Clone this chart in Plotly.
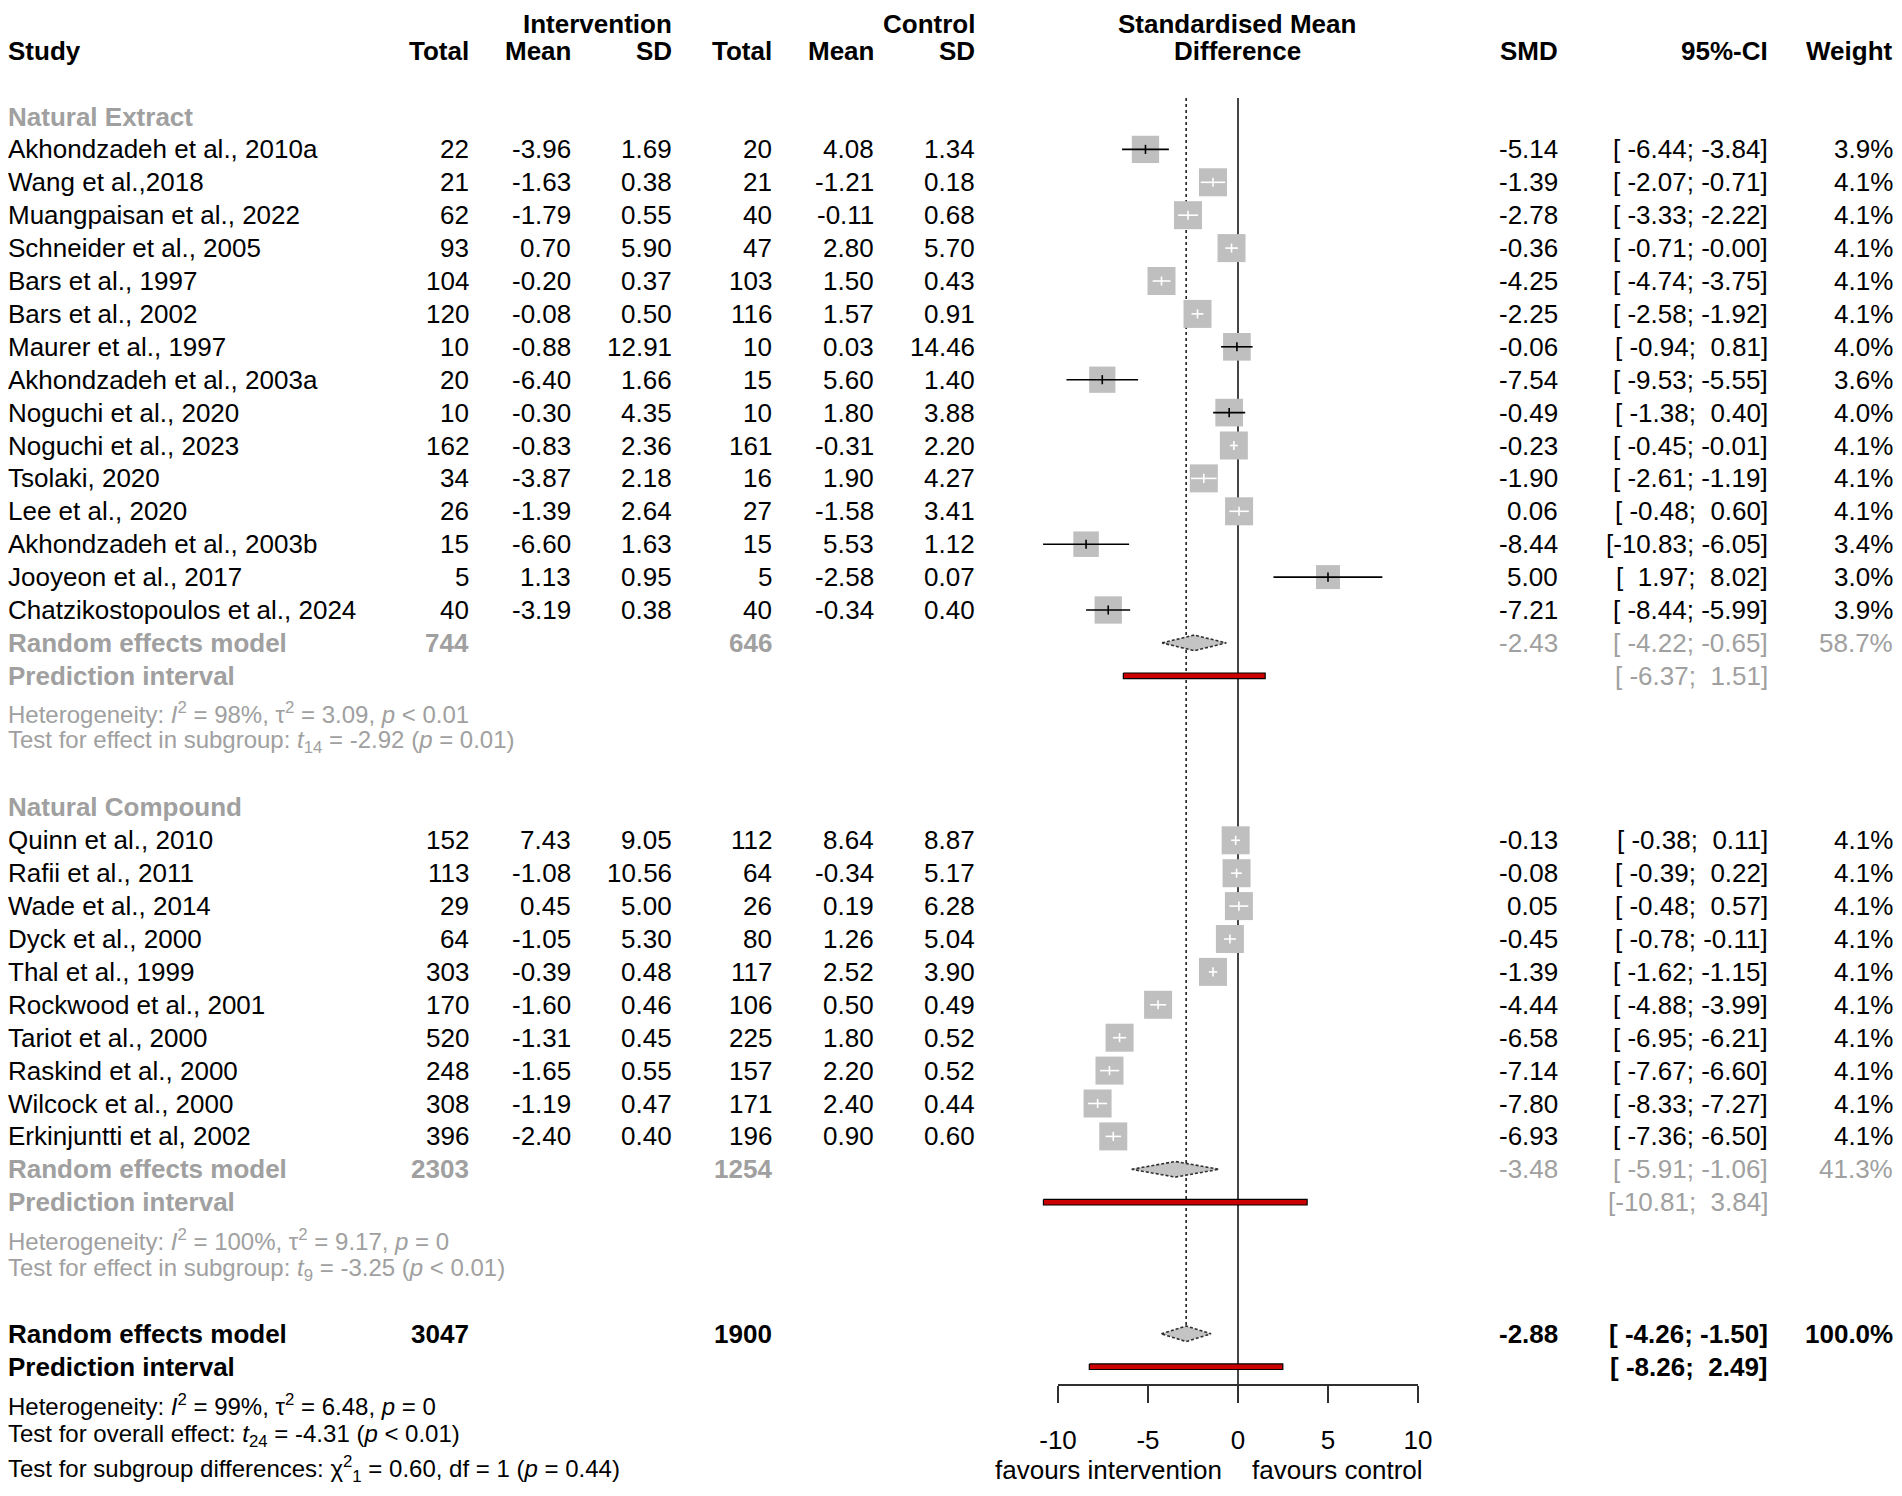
import numpy as np
import plotly.graph_objects as go

# ---- data ----
ext_study = ["Akhondzadeh et al., 2010a", "Wang et al.,2018", "Muangpaisan et al., 2022",
             "Schneider et al., 2005", "Bars et al., 1997", "Bars et al., 2002", "Maurer et al., 1997",
             "Akhondzadeh et al., 2003a", "Noguchi et al., 2020", "Noguchi et al., 2023", "Tsolaki, 2020",
             "Lee et al., 2020", "Akhondzadeh et al., 2003b", "Jooyeon et al., 2017",
             "Chatzikostopoulos et al., 2024"]
ext_n_int = [22, 21, 62, 93, 104, 120, 10, 20, 10, 162, 34, 26, 15, 5, 40]
ext_mean_int = [-3.96, -1.63, -1.79, 0.70, -0.20, -0.08, -0.88, -6.40, -0.30, -0.83, -3.87, -1.39, -6.60, 1.13, -3.19]
ext_sd_int = [1.69, 0.38, 0.55, 5.90, 0.37, 0.50, 12.91, 1.66, 4.35, 2.36, 2.18, 2.64, 1.63, 0.95, 0.38]
ext_n_ctl = [20, 21, 40, 47, 103, 116, 10, 15, 10, 161, 16, 27, 15, 5, 40]
ext_mean_ctl = [4.08, -1.21, -0.11, 2.80, 1.50, 1.57, 0.03, 5.60, 1.80, -0.31, 1.90, -1.58, 5.53, -2.58, -0.34]
ext_sd_ctl = [1.34, 0.18, 0.68, 5.70, 0.43, 0.91, 14.46, 1.40, 3.88, 2.20, 4.27, 3.41, 1.12, 0.07, 0.40]
ext_smd = [-5.14, -1.39, -2.78, -0.36, -4.25, -2.25, -0.06, -7.54, -0.49, -0.23, -1.90, 0.06, -8.44, 5.00, -7.21]
ext_lo = [-6.44, -2.07, -3.33, -0.71, -4.74, -2.58, -0.94, -9.53, -1.38, -0.45, -2.61, -0.48, -10.83, 1.97, -8.44]
ext_hi = [-3.84, -0.71, -2.22, -0.00, -3.75, -1.92, 0.81, -5.55, 0.40, -0.01, -1.19, 0.60, -6.05, 8.02, -5.99]
ext_w = [3.9, 4.1, 4.1, 4.1, 4.1, 4.1, 4.0, 3.6, 4.0, 4.1, 4.1, 4.1, 3.4, 3.0, 3.9]

cmp_study = ["Quinn et al., 2010", "Rafii et al., 2011", "Wade et al., 2014", "Dyck et al., 2000",
             "Thal et al., 1999", "Rockwood et al., 2001", "Tariot et al., 2000", "Raskind et al., 2000",
             "Wilcock et al., 2000", "Erkinjuntti et al, 2002"]
cmp_n_int = [152, 113, 29, 64, 303, 170, 520, 248, 308, 396]
cmp_mean_int = [7.43, -1.08, 0.45, -1.05, -0.39, -1.60, -1.31, -1.65, -1.19, -2.40]
cmp_sd_int = [9.05, 10.56, 5.00, 5.30, 0.48, 0.46, 0.45, 0.55, 0.47, 0.40]
cmp_n_ctl = [112, 64, 26, 80, 117, 106, 225, 157, 171, 196]
cmp_mean_ctl = [8.64, -0.34, 0.19, 1.26, 2.52, 0.50, 1.80, 2.20, 2.40, 0.90]
cmp_sd_ctl = [8.87, 5.17, 6.28, 5.04, 3.90, 0.49, 0.52, 0.52, 0.44, 0.60]
cmp_smd = [-0.13, -0.08, 0.05, -0.45, -1.39, -4.44, -6.58, -7.14, -7.80, -6.93]
cmp_lo = [-0.38, -0.39, -0.48, -0.78, -1.62, -4.88, -6.95, -7.67, -8.33, -7.36]
cmp_hi = [0.11, 0.22, 0.57, -0.11, -1.15, -3.99, -6.21, -6.60, -7.27, -6.50]
cmp_w = [4.1, 4.1, 4.1, 4.1, 4.1, 4.1, 4.1, 4.1, 4.1, 4.1]

# summaries: [natural extract, natural compound, overall]
sum_label = ["Random effects model", "Random effects model", "Random effects model"]
sum_n_int = [744, 2303, 3047]
sum_n_ctl = [646, 1254, 1900]
sum_smd = [-2.43, -3.48, -2.88]
sum_lo = [-4.22, -5.91, -4.26]
sum_hi = [-0.65, -1.06, -1.50]
sum_w = [58.7, 41.3, 100.0]
pi_lo = [-6.37, -10.81, -8.26]
pi_hi = [1.51, 3.84, 2.49]

groups = ["Natural Extract", "Natural Compound"]
het_text = [
    "Heterogeneity: <i>I</i><sup>2</sup> = 98%, τ<sup>2</sup> = 3.09, <i>p</i> &lt; 0.01",
    "Heterogeneity: <i>I</i><sup>2</sup> = 100%, τ<sup>2</sup> = 9.17, <i>p</i> = 0",
]
test_text = [
    "Test for effect in subgroup: <i>t</i><sub>14</sub> = -2.92 (<i>p</i> = 0.01)",
    "Test for effect in subgroup: <i>t</i><sub>9</sub> = -3.25 (<i>p</i> &lt; 0.01)",
]
overall_text = [
    "Heterogeneity: <i>I</i><sup>2</sup> = 99%, τ<sup>2</sup> = 6.48, <i>p</i> = 0",
    "Test for overall effect: <i>t</i><sub>24</sub> = -4.31 (<i>p</i> &lt; 0.01)",
    "Test for subgroup differences: χ<sup>2</sup><sub>1</sub> = 0.60, df = 1 (<i>p</i> = 0.44)",
]
axis_ticks = [-10, -5, 0, 5, 10]

# ---- geometry (in screen pixels; the page puts the figure 8px in) ----
W, H = 1902, 1496
SHIFT = 8
X0, PXU = 1238, 18.0          # screen pixel of SMD = 0 and pixels per unit
ROW0, ROWH = 116.5, 32.9      # screen pixel of row 0 and row height
AXIS_PX = 1385
FONT = "Arial, Liberation Sans, sans-serif"
BLACK, GRAY = "#000000", "#a0a0a0"
FS, FS_HET = 26, 24


def row_of(py):
    return (py - ROW0) / ROWH


def fx(px):
    return (px - SHIFT) / W


# row index of every line
ext_rows = [1 + i for i in range(len(ext_study))]
cmp_rows = [22 + i for i in range(len(cmp_study))]
head_rows = [0, 21]
re_rows = [16, 32, 37]
pi_rows = [17, 33, 38]
het_rows = [18.12, 34.15]
test_rows = [19.0, 35.05]
overall_rows = [39.15, 40.1, 41.12]
axis_row = row_of(AXIS_PX)
top_row = row_of(98)

all_smd = ext_smd + cmp_smd
all_lo = ext_lo + cmp_lo
all_hi = ext_hi + cmp_hi
all_w = ext_w + cmp_w
all_rows = ext_rows + cmp_rows

annotations = []


def txt(px, k, s, anchor="right", color=BLACK, bold=False, size=FS):
    annotations.append(dict(
        x=fx(px), xref="paper", y=k, yref="y", text=f"<b>{s}</b>" if bold else s,
        xanchor=anchor, yanchor="middle", showarrow=False, borderpad=0,
        font=dict(family=FONT, size=size, color=color)))


def ci_str(lo, hi):
    return ("[" + f"{lo:.2f}".rjust(6, "\u00a0") + ";\u00a0" + f"{hi:.2f}".rjust(5, "\u00a0") + "]")


# column right edges in pixels
C_NI, C_MI, C_SI, C_NC, C_MC, C_SC = 470, 572, 673, 773, 874.5, 976
C_SMD, C_CI, C_W = 1559, 1768.5, 1894

# headers
txt(C_SI, -2.8, "Intervention", bold=True)
txt(C_SC, -2.8, "Control", bold=True)
txt(1237, -2.8, "Standardised Mean", anchor="center", bold=True)
txt(7, -2, "Study", anchor="left", bold=True)
for px, s in [(C_NI, "Total"), (C_MI, "Mean"), (C_SI, "SD"), (C_NC, "Total"), (C_MC, "Mean"),
              (C_SC, "SD"), (C_SMD, "SMD"), (C_CI, "95%-CI"), (C_W, "Weight")]:
    txt(px, -2, s, bold=True)
txt(1237, -2, "Difference", anchor="center", bold=True)

# study rows
studies = [
    (ext_study, ext_n_int, ext_mean_int, ext_sd_int, ext_n_ctl, ext_mean_ctl, ext_sd_ctl,
     ext_smd, ext_lo, ext_hi, ext_w, ext_rows),
    (cmp_study, cmp_n_int, cmp_mean_int, cmp_sd_int, cmp_n_ctl, cmp_mean_ctl, cmp_sd_ctl,
     cmp_smd, cmp_lo, cmp_hi, cmp_w, cmp_rows),
]
for g, (names, ni, mi, si, nc, mc, sc, smd, lo, hi, w, rows) in enumerate(studies):
    txt(7, head_rows[g], groups[g], anchor="left", color=GRAY, bold=True)
    for i, k in enumerate(rows):
        txt(7, k, names[i], anchor="left")
        txt(C_NI, k, str(ni[i]))
        txt(C_MI, k, f"{mi[i]:.2f}")
        txt(C_SI, k, f"{si[i]:.2f}")
        txt(C_NC, k, str(nc[i]))
        txt(C_MC, k, f"{mc[i]:.2f}")
        txt(C_SC, k, f"{sc[i]:.2f}")
        txt(C_SMD, k, f"{smd[i]:.2f}")
        txt(C_CI, k, ci_str(lo[i], hi[i]))
        txt(C_W, k, f"{w[i]:.1f}%")
    txt(7, het_rows[g], het_text[g], anchor="left", color=GRAY, size=FS_HET)
    txt(7, test_rows[g], test_text[g], anchor="left", color=GRAY, size=FS_HET)

# summary rows
for j in range(3):
    col = GRAY if j < 2 else BLACK
    k = re_rows[j]
    txt(7, k, sum_label[j], anchor="left", color=col, bold=True)
    txt(C_NI, k, str(sum_n_int[j]), color=col, bold=True)
    txt(C_NC, k, str(sum_n_ctl[j]), color=col, bold=True)
    txt(C_SMD, k, f"{sum_smd[j]:.2f}", color=col, bold=(j == 2))
    txt(C_CI, k, ci_str(sum_lo[j], sum_hi[j]), color=col, bold=(j == 2))
    txt(C_W, k, f"{sum_w[j]:.1f}%", color=col, bold=(j == 2))
    txt(7, pi_rows[j], "Prediction interval", anchor="left", color=col, bold=True)
    txt(C_CI, pi_rows[j], ci_str(pi_lo[j], pi_hi[j]), color=col, bold=(j == 2))
for s, k in zip(overall_text, overall_rows):
    txt(7, k, s, anchor="left", size=FS_HET)

txt(1223, row_of(1470), "favours intervention", anchor="right")
txt(1251, row_of(1470), "favours control", anchor="left")

fig = go.Figure()

# reference lines: no effect (solid) and overall estimate (dotted)
fig.add_trace(go.Scatter(x=[0, 0], y=[top_row, axis_row], mode="lines",
                         line=dict(color="#303030", width=1.8), hoverinfo="skip"))
fig.add_trace(go.Scatter(x=[sum_smd[2], sum_smd[2]], y=[top_row, re_rows[2] - 0.23], mode="lines",
                         line=dict(color="#202020", width=1.6, dash="dot"), hoverinfo="skip"))

# study squares (area proportional to weight)
sizes = [28 * np.sqrt(w / 4.1) for w in all_w]
fig.add_trace(go.Scatter(x=all_smd, y=all_rows, mode="markers",
                         marker=dict(symbol="square", size=sizes, color="#bfbfbf", opacity=1,
                                     line=dict(width=0)),
                         hoverinfo="skip"))

# confidence intervals: white when inside the square, black otherwise
inside = [(l >= m - s / 2 / PXU) and (h <= m + s / 2 / PXU)
          for m, l, h, s in zip(all_smd, all_lo, all_hi, sizes)]
for flag, colr in [(False, "#000000"), (True, "#ffffff")]:
    xs, ys = [], []
    for l, h, k, f in zip(all_lo, all_hi, all_rows, inside):
        if f == flag:
            xs += [l, h, None]
            ys += [k, k, None]
    fig.add_trace(go.Scatter(x=xs, y=ys, mode="lines", line=dict(color=colr, width=1.6),
                             hoverinfo="skip"))
fig.add_trace(go.Scatter(x=all_smd, y=all_rows, mode="markers",
                         marker=dict(symbol="line-ns", size=6.5, opacity=1,
                                     line=dict(width=1.6, color=["#ffffff" if f else "#000000" for f in inside])),
                         hoverinfo="skip"))

# pooled diamonds
dh = 7.8 / ROWH
dx, dy = [], []
for m, l, h, k in zip(sum_smd, sum_lo, sum_hi, re_rows):
    dx += [l, m, h, m, l, None]
    dy += [k, k - dh, k, k + dh, k, None]
fig.add_trace(go.Scatter(x=dx, y=dy, mode="lines", fill="toself", fillcolor="#c4c4c4",
                         line=dict(color="#303030", width=1.6, dash="3px,2px"), hoverinfo="skip"))

# prediction intervals
ph = 2.8 / ROWH
px_, py_ = [], []
for l, h, k in zip(pi_lo, pi_hi, pi_rows):
    px_ += [l, h, h, l, l, None]
    py_ += [k - ph, k - ph, k + ph, k + ph, k - ph, None]
fig.add_trace(go.Scatter(x=px_, y=py_, mode="lines", fill="toself", fillcolor="#cc0000",
                         line=dict(color="#000000", width=1.2), hoverinfo="skip"))

# carrier for the bottom axis
fig.add_trace(go.Scatter(x=axis_ticks, y=[axis_row] * len(axis_ticks), xaxis="x2", mode="markers",
                         marker=dict(opacity=0), hoverinfo="skip"))

fig.update_layout(
    width=W, height=H, margin=dict(l=0, r=0, t=0, b=0, autoexpand=False),
    paper_bgcolor="white", plot_bgcolor="rgba(0,0,0,0)", showlegend=False,
    font=dict(family=FONT, size=FS, color=BLACK),
    xaxis=dict(range=[(SHIFT - X0) / PXU, (W + SHIFT - X0) / PXU], visible=False,
               domain=[0, 1], automargin=False),
    yaxis=dict(range=[row_of(H + SHIFT), row_of(SHIFT)], visible=False, domain=[0, 1],
               automargin=False),
    xaxis2=dict(domain=[fx(X0 - 10 * PXU), fx(X0 + 10 * PXU)], range=[-10, 10],
                anchor="free", position=1 - (AXIS_PX - SHIFT) / H, tickvals=axis_ticks,
                ticktext=[str(t) for t in axis_ticks], automargin=False,
                ticks="outside", ticklen=17, tickwidth=1.8, tickcolor="#303030",
                showline=True, linewidth=1.8, linecolor="#303030",
                showgrid=False, zeroline=False, ticklabelstandoff=15,
                tickfont=dict(family=FONT, size=FS, color=BLACK)),
    annotations=annotations,
)

fig.write_html("out.html")
